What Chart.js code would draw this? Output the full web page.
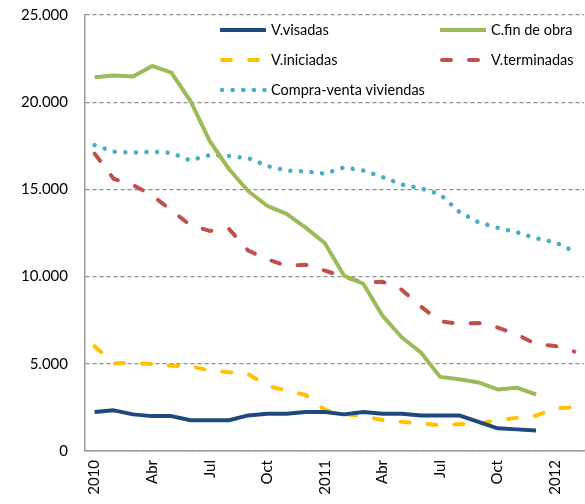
<!DOCTYPE html>
<html>
<head>
<meta charset="utf-8">
<script src="https://cdn.jsdelivr.net/npm/chart.js@4.4.1/dist/chart.umd.min.js"></script>
<style>
  html, body { margin: 0; padding: 0; background: #fff; }
  #marco { position: relative; width: 585px; height: 504px; }
</style>
</head>
<body>
<div id="marco"><canvas id="lineas" width="585" height="504"></canvas></div>
<script>
// Datos mensuales enero 2010 - febrero 2012
const meses = ['2010', 'Feb', 'Mar', 'Abr', 'May', 'Jun', 'Jul', 'Ago', 'Sep', 'Oct', 'Nov', 'Dic',
               '2011', 'Feb', 'Mar', 'Abr', 'May', 'Jun', 'Jul', 'Ago', 'Sep', 'Oct', 'Nov', 'Dic',
               '2012', 'Feb'];

const visadas = [2230, 2330, 2100, 2000, 2000, 1760, 1760, 1760, 2040, 2140, 2140, 2230,
                 2230, 2100, 2230, 2140, 2140, 2040, 2040, 2040, 1670, 1300, 1240, 1180, null, null];
const finObra = [21430, 21530, 21470, 22080, 21700, 20060, 17770, 16170, 14910, 14050, 13600, 12810,
                 11910, 10050, 9590, 7760, 6520, 5650, 4250, 4110, 3930, 3530, 3630, 3240, null, null];
const iniciadas = [6010, 5020, 5060, 4980, 4890, 4860, 4610, 4520, 4420, 3730, 3470, 3210,
                   2350, 2130, 1980, 1780, 1670, 1580, 1470, 1540, 1570, 1760, 1900, 2030, 2450, 2500];
const terminadas = [17050, 15600, 15250, 14650, 13800, 12940, 12620, 12740, 11500, 10990, 10620, 10680,
                    10340, 9990, 9650, 9710, 9250, 8280, 7440, 7290, 7340, 7080, 6680, 6130, 6020, 5700];
const compraventa = [17540, 17160, 17100, 17160, 17090, 16660, 16970, 16910, 16800, 16340, 16080, 16030,
                     15900, 16260, 16080, 15710, 15280, 15060, 14720, 13710, 13110, 12800, 12540, 12200, 11970, 11430];

const ticksY = [0, 5000, 10000, 15000, 20000, 25000];

const fuente = 'Lato, "Liberation Sans", sans-serif';

// formato con punto de miles
function miles(v) {
    return String(v).replace(/\B(?=(\d{3})+(?!\d))/g, '.');
}

function serie(nombre, valores, color, dash) {
    return {
        label: nombre,
        data: valores,
        borderColor: color,
        backgroundColor: color,
        borderWidth: dash && dash[0] < 1 ? 4.5 : 4,
        borderDash: dash || [],
        borderCapStyle: dash ? 'round' : 'butt',
        borderJoinStyle: 'round',
        pointRadius: 0,
        tension: 0,
        fill: false
    };
}

// leyenda en dos columnas dentro del grafico
const leyenda = {
    id: 'leyenda',
    afterDraw(chart) {
        const ctx = chart.ctx;
        const sitios = [[220, 30], [440, 30], [220, 60], [440, 60], [220, 90]];
        chart.data.datasets.forEach((ds, i) => {
            const x = sitios[i][0], y = sitios[i][1];
            ctx.save();
            ctx.strokeStyle = ds.borderColor;
            ctx.lineWidth = ds.borderWidth;
            ctx.lineCap = ds.borderCapStyle;
            ctx.setLineDash(ds.borderDash);
            ctx.beginPath();
            ctx.moveTo(x + (ds.borderDash.length ? 2 : 0), y);
            ctx.lineTo(x + 46, y);
            ctx.stroke();
            ctx.setLineDash([]);
            ctx.fillStyle = '#000';
            ctx.font = '14.5px ' + fuente;
            ctx.textBaseline = 'middle';
            ctx.fillText(ds.label, x + 51, y);
            ctx.restore();
        });
    }
};

const datos = {
    labels: meses,
    datasets: [
        serie('V.visadas', visadas, '#1F497D'),
        serie('C.fin de obra', finObra, '#9BBB59'),
        serie('V.iniciadas', iniciadas, '#FFC000', [9, 18]),
        serie('V.terminadas', terminadas, '#C0504D', [9, 18]),
        serie('Compra-venta viviendas', compraventa, '#4BACC6', [0.1, 10.5])
    ]
};

const config = {
    type: 'line',
    data: datos,
    options: {
        responsive: false,
        animation: false,
        layout: { padding: { top: 15, right: 1, left: 0, bottom: 0 } },
        plugins: {
            legend: { display: false },
            tooltip: { enabled: false }
        },
        scales: {
            x: {
                offset: true,
                grid: { display: false, drawTicks: false },
                border: { display: true, color: '#9a9a9a', width: 1.5 },
                ticks: {
                    autoSkip: false,
                    maxRotation: 90,
                    minRotation: 90,
                    padding: 9,
                    color: '#000',
                    font: { family: fuente, size: 15 },
                    callback: function (v, i) { return i % 3 === 0 ? meses[i] : ''; }
                },
                afterFit: function (s) {
                    s.height = 53;
                    s.paddingLeft = 0;
                    s.paddingRight = 0;
                }
            },
            y: {
                min: 0,
                max: 25000,
                afterBuildTicks: function (s) { s.ticks = ticksY.map(v => ({ value: v })); },
                grid: { color: '#8c8c8c', lineWidth: 1.3, drawTicks: false },
                border: { display: true, color: '#9a9a9a', width: 1.5, dash: [4, 3] },
                ticks: {
                    padding: 17,
                    color: '#000',
                    font: { family: fuente, size: 15 },
                    callback: function (v) { return miles(v); }
                },
                afterFit: function (s) {
                    s.width = 85;
                    s.paddingTop = 0;
                    s.paddingBottom = 0;
                }
            }
        }
    },
    plugins: [leyenda]
};

new Chart(document.getElementById('lineas').getContext('2d'), config);
</script>
</body>
</html>
